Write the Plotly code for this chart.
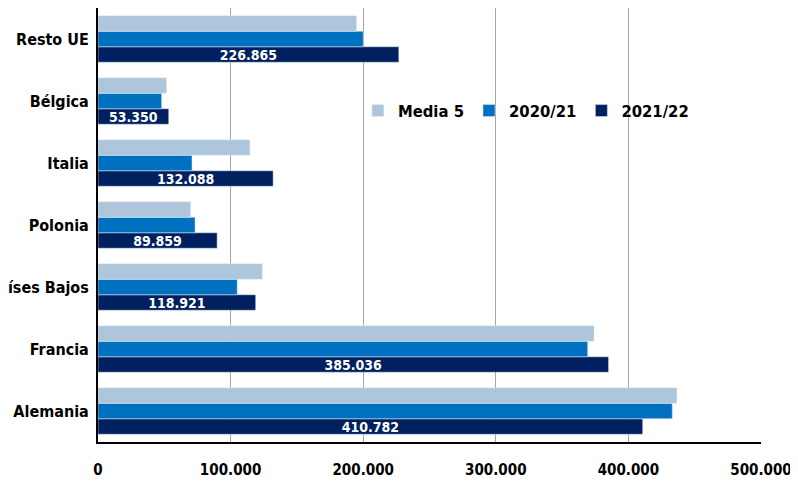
import plotly.graph_objects as go

paises = ["Alemania", "Francia", "Países Bajos", "Polonia", "Italia", "Bélgica", "Resto UE"]
media5 = [436600, 374100, 123900, 69900, 114600, 51800, 195000]
campana_2020_21 = [433100, 369300, 105000, 73200, 70900, 48000, 200000]
campana_2021_22 = [410782, 385036, 118921, 89859, 132088, 53350, 226865]

fuente = "DejaVu Sans Condensed, Liberation Sans, Arial"

fig = go.Figure()
# orden inverso para que Media 5 quede arriba en cada grupo
fig.add_trace(go.Bar(y=paises, x=campana_2021_22, name="2021/22", orientation="h",
                     marker_color="#002060",
                     texttemplate="%{x:,d}", textposition="inside",
                     insidetextanchor="middle", constraintext="none",
                     textfont=dict(color="white", size=14, family=fuente, weight="bold")))
fig.add_trace(go.Bar(y=paises, x=campana_2020_21, name="2020/21", orientation="h",
                     marker_color="#0070C0"))
fig.add_trace(go.Bar(y=paises, x=media5, name="Media 5", orientation="h",
                     marker_color="#ADC6DC"))

fig.update_layout(
    width=798, height=491,
    margin=dict(l=90, r=45, t=0, b=57),
    paper_bgcolor="white", plot_bgcolor="white",
    barmode="group", bargap=0.25, bargroupgap=0,
    separators=",.",
    font=dict(family=fuente, size=16, color="black", weight="bold"),
    legend=dict(orientation="h", traceorder="reversed",
                x=0.392, y=0.763, xanchor="left", yanchor="middle",
                font=dict(size=16.5, weight="bold"), bgcolor="rgba(0,0,0,0)"),
    xaxis=dict(range=[0, 500000], tickvals=[0, 100000, 200000, 300000, 400000, 500000],
               tickformat=",d", showgrid=True, gridcolor="#A6A6A6", gridwidth=1,
               showline=True, linecolor="black", linewidth=2, zeroline=False,
               ticks="", ticklabelstandoff=13, automargin=False,
               tickfont=dict(size=15, weight="bold")),
    yaxis=dict(showline=True, linecolor="black", linewidth=2, ticks="",
               ticklabelstandoff=4, automargin=False,
               tickfont=dict(size=16, weight="bold")),
)

fig.write_html("out.html")
